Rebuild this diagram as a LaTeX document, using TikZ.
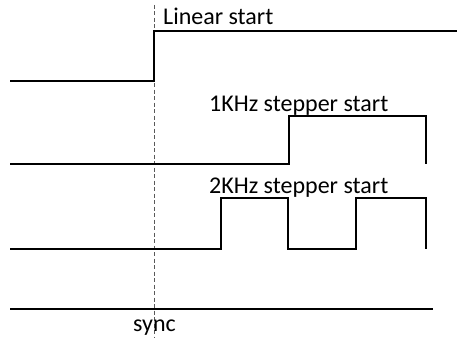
\documentclass[tikz,border=0pt]{standalone}
\usepackage{fontspec}
\setmainfont{Carlito}
\begin{document}
\begin{tikzpicture}[x=1pt,y=-1pt,
  signal/.style={line width=2pt,line join=miter},
  syncline/.style={dashed,gray!70!black,line width=0.8pt,dash pattern=on 4pt off 2.5pt},
  lbl/.style={inner sep=0pt,anchor=base west,font=\fontsize{24}{28}\selectfont}]
\useasboundingbox (0,0) rectangle (457,337);
\draw[syncline] (154,5) -- (154,337);
% linear
\draw[signal] (10,81) -- (154,81) -- (154,31) -- (457,31);
% 1KHz
\draw[signal] (10,164) -- (289,164) -- (289,116) -- (426,116) -- (426,164);
% 2KHz
\draw[signal] (10,249) -- (221,249) -- (221,198) -- (288,198) -- (288,249) -- (356,249) -- (356,198) -- (426,198) -- (426,249);
% sync
\draw[signal] (10,309) -- (433,309);
\node[lbl] (lin) at (163,25) {Linear start};
\node[lbl] (k1) at (209,111) {1KHz stepper start};
\node[lbl] (k2) at (209,193) {2KHz stepper start};
\node[lbl] (sy) at (133,331) {sync};
\end{tikzpicture}
\end{document}
